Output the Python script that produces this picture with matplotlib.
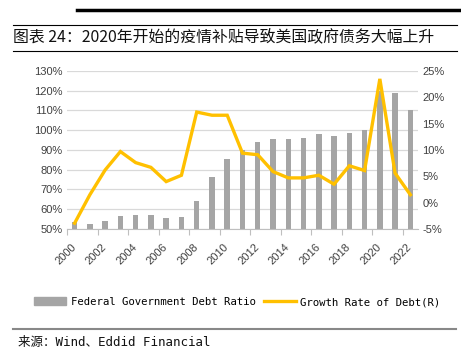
import numpy as np
import matplotlib.pyplot as plt
from matplotlib.lines import Line2D
from matplotlib.patches import Patch

years = list(range(2000, 2023))
debt_ratio = [53.4, 52.5, 54.1, 56.6, 57.1, 57.1, 55.8, 55.9, 64.1, 76.1, 85.3,
              89.8, 93.9, 95.6, 95.8, 96.1, 98.3, 97.3, 98.8, 100.3, 120.0,
              119.0, 110.5]
debt_growth = [-3.9, 1.5, 6.2, 9.7, 7.6, 6.7, 4.0, 5.2, 17.2, 16.6, 16.6,
               9.4, 9.1, 5.9, 4.7, 4.7, 5.2, 3.5, 7.0, 6.1, 23.5, 5.6, 1.5]
left_ticks = list(range(50, 131, 10))
right_ticks = list(range(-5, 26, 5))

title = '图表 24：2020年开始的疫情补贴导致美国政府债务大幅上升'
source = '来源：Wind、Eddid Financial'
bar_label = 'Federal Government Debt Ratio'
line_label = 'Growth Rate of Debt(R)'

BAR_C = '#A5A5A5'
LINE_C = '#FFC000'

fig = plt.figure(figsize=(4.61, 3.55), dpi=100)
ax = fig.add_axes([0.1453, 0.355, 0.7614, 0.445])
x = np.arange(len(years))

# gridlines (left axis)
ax.set_ylim(50, 130)
ax.set_yticks(left_ticks)
ax.set_yticklabels([f'{t}%' for t in left_ticks])
ax.grid(axis='y', color='#D9D9D9', lw=0.9)
ax.set_axisbelow(True)
ax.bar(x, [v - 50 for v in debt_ratio], bottom=50, width=0.36, color=BAR_C, zorder=2)
ax.set_xlim(-0.5, len(years) - 0.5)

# right axis
ax2 = ax.twinx()
ax2.set_ylim(-5, 25)
ax2.set_yticks(right_ticks)
ax2.set_yticklabels([f'{t}%' for t in right_ticks])
ax2.plot(x, debt_growth, color=LINE_C, lw=2.4, solid_joinstyle='miter', zorder=3)

for a in (ax, ax2):
    for s in ('top', 'left', 'right'):
        a.spines[s].set_visible(False)
    a.tick_params(axis='y', length=0, labelsize=8, colors='#404040', pad=3)
    for lbl in a.get_yticklabels():
        lbl.set_family('Liberation Sans')
ax.spines['bottom'].set_color('#BFBFBF')
ax2.spines['bottom'].set_visible(False)

# x ticks: marks at boundaries every 2, labels at even years
ax.set_xticks(np.arange(-0.5, len(years), 2))
ax.set_xticklabels([])
ax.tick_params(axis='x', which='major', length=4, color='#BFBFBF')
ax.set_xticks(x[::2], minor=True)
ax.set_xticklabels([str(y) for y in years[::2]], minor=True, rotation=45,
                   ha='right', va='center', rotation_mode='anchor',
                   fontsize=8, family='Liberation Sans', color='#404040')
ax.tick_params(axis='x', which='minor', length=0, pad=12)

# legend
handles = [Patch(color=BAR_C), Line2D([], [], color=LINE_C, lw=2.4)]
fig.legend(handles, [bar_label, line_label], loc='center',
           bbox_to_anchor=(0.515, 0.149), ncol=2, frameon=False,
           prop={'family': 'DejaVu Sans Mono', 'size': 7.7},
           handlelength=3.0, handleheight=0.8, handletextpad=0.4, columnspacing=0.8)

# header rules and title
fig.add_artist(Line2D([0.167, 1.0], [0.972, 0.972], color='black', lw=2.5))
fig.add_artist(Line2D([0.028, 0.991], [0.929, 0.929], color='black', lw=0.8))
fig.add_artist(Line2D([0.028, 0.991], [0.856, 0.856], color='black', lw=0.8))
fig.text(0.028, 0.896, title, fontsize=11.4, family='Noto Sans CJK SC',
         va='center', ha='left', color='#111111')

fig.add_artist(Line2D([0.028, 0.99], [0.073, 0.073], color='#888888', lw=1.5))
fig.text(0.039, 0.034, source, fontsize=9, family=['DejaVu Sans Mono', 'Noto Sans CJK SC'],
         va='center', ha='left', color='#111111')

fig.savefig('out.png', dpi=100)
